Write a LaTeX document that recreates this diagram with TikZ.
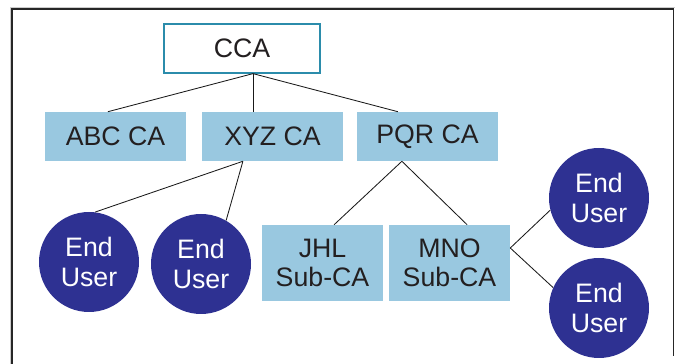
\documentclass[tikz,border=0pt]{standalone}
\usepackage{fontspec}
\setmainfont{Liberation Sans}
\definecolor{calight}{HTML}{99C8E0}
\definecolor{userblue}{HTML}{2E3192}
\definecolor{rootedge}{HTML}{2B8CAB}
\definecolor{inktext}{HTML}{231F20}
\tikzset{
	cabox/.style={fill=calight, text=inktext, minimum width=3.525cm, minimum height=1.225cm, inner sep=0pt, align=center},
	subbox/.style={cabox, minimum width=3.025cm, minimum height=1.9cm},
	rootbox/.style={draw=rootedge, line width=0.9pt, fill=white, text=inktext, minimum width=3.9cm, minimum height=1.225cm, inner sep=0pt},
	enduser/.style={circle, fill=userblue, text=white, minimum size=2.5cm, inner sep=0pt, align=center},
	link/.style={black!90, line width=0.6pt}
}
\begin{document}
\begin{tikzpicture}[font=\fontsize{19}{21}\selectfont]
	\useasboundingbox (0,0) rectangle (16.875,9.1);
	\draw[gray!40, line width=0.6pt] (0.27,0) -- (0.27,8.905) -- (16.87,8.905);
	\draw[black!85, line width=0.9pt] (0.3,0) -- (0.3,8.875) -- (16.84,8.875) -- (16.84,0.2);
	% certificate authorities
	\node[rootbox] (cca) at (6.05,7.8875) {CCA};
	\node[cabox] (abc) at (2.8875,5.6875) {ABC CA};
	\node[cabox] (xyz) at (6.8125,5.6875) {XYZ CA};
	\node[cabox] (pqr) at (10.6875,5.6875) {PQR CA};
	\node[subbox] (jhl) at (8.0625,2.525) {JHL\\Sub-CA};
	\node[subbox] (mno) at (11.2375,2.525) {MNO\\Sub-CA};
	% end users
	\node[enduser] (eua) at (2.225,2.55) {End\\User};
	\node[enduser] (eub) at (5.025,2.5) {End\\User};
	\node[enduser] (euc) at (14.975,4.15) {End\\User};
	\node[enduser] (eud) at (14.975,1.4) {End\\User};
	\coordinate (ccaj) at ([xshift=0.275cm]cca.south);
	\draw[link] (ccaj) -- ([xshift=-0.19cm]abc.north);
	\draw[link] (ccaj) -- (ccaj |- xyz.north);
	\draw[link] (ccaj) -- ([xshift=-0.74cm]pqr.north);
	\draw[link] ([xshift=-0.74cm]xyz.south) -- (eua.83);
	\draw[link] ([xshift=-0.74cm]xyz.south) -- (eub.60);
	\draw[link] ([xshift=-0.64cm]pqr.south) -- ([xshift=0.29cm]jhl.north);
	\draw[link] ([xshift=-0.64cm]pqr.south) -- ([xshift=0.44cm]mno.north);
	\draw[link] ([yshift=0.375cm]mno.east) -- (euc.194);
	\draw[link] ([yshift=0.375cm]mno.east) -- (eud.156);
\end{tikzpicture}
\end{document}
